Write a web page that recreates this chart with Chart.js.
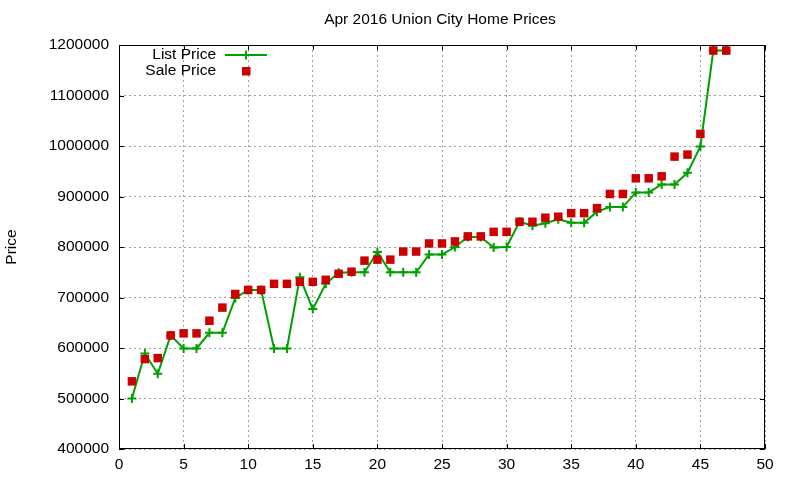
<!DOCTYPE html>
<html>
<head>
<meta charset="utf-8">
<script src="https://cdn.jsdelivr.net/npm/chart.js@4.4.1/dist/chart.umd.min.js"></script>
<style>
html,body{margin:0;padding:0;background:#fff;}
canvas{display:block;}
</style>
</head>
<body>
<canvas id="c" width="800" height="480"></canvas>
<script>
const chartTitle = "Apr 2016 Union City Home Prices";
const yAxisTitle = "Price";
const seriesNames = ["List Price", "Sale Price"];
const homes = [1,2,3,4,5,6,7,8,9,10,11,12,13,14,15,16,17,18,19,20,21,22,23,24,25,26,27,28,29,30,31,32,33,34,35,36,37,38,39,40,41,42,43,44,45,46,47];
const listPrice = [500000,589000,549000,625000,599000,599000,630000,630000,699000,715000,715000,599000,599000,740000,677000,727000,749000,750000,750000,790000,750000,750000,750000,785000,785000,800000,820000,820000,799000,800000,850000,842000,847000,855000,848000,848000,870000,879000,879000,908000,908000,924000,924000,947000,999000,1189000,1189000];
const salePrice = [534000,578000,580000,625000,629000,629000,654000,680000,707000,715000,715000,727000,727000,731000,731000,735000,747000,751000,773000,775000,775000,791000,791000,807000,807000,811000,821000,821000,830000,830000,850000,850000,858000,860000,867000,867000,877000,905000,905000,936000,936000,940000,979000,983000,1024000,1189000,1189000];
const xTicks = [0,5,10,15,20,25,30,35,40,45,50];
const yTicks = [400000,500000,600000,700000,800000,900000,1000000,1100000,1200000];

const FONT = "Liberation Sans, Arial, sans-serif";
const FSIZE = 15.5;
const GREEN = "#00a000";
const RED = "#cc0000";

const decor = {
  id: "decor",
  afterDraw(chart) {
    const ctx = chart.ctx;
    const a = chart.chartArea;
    const xs = chart.scales.x, ys = chart.scales.y;
    ctx.save();
    ctx.strokeStyle = "#000";
    ctx.lineWidth = 1;
    ctx.setLineDash([]);
    ctx.strokeRect(Math.round(a.left) + 0.5, Math.round(a.top) + 0.5, Math.round(a.right - a.left) - 1, Math.round(a.bottom - a.top) - 1);
    const tl = 5;
    ctx.beginPath();
    xTicks.forEach(v => {
      const px = Math.round(xs.getPixelForValue(v)) + 0.5;
      ctx.moveTo(px, a.bottom); ctx.lineTo(px, a.bottom - tl);
      ctx.moveTo(px, a.top); ctx.lineTo(px, a.top + tl);
    });
    yTicks.forEach(v => {
      const py = Math.round(ys.getPixelForValue(v)) + 0.5;
      ctx.moveTo(a.left, py); ctx.lineTo(a.left + tl, py);
      ctx.moveTo(a.right, py); ctx.lineTo(a.right - tl, py);
    });
    ctx.stroke();
    ctx.fillStyle = "#000";
    ctx.font = FSIZE + "px " + FONT;
    ctx.textAlign = "center";
    ctx.textBaseline = "middle";
    ctx.fillText(chartTitle, (a.left + a.right) / 2 - 2, 20);
    ctx.save();
    ctx.translate(12, (a.top + a.bottom) / 2);
    ctx.rotate(-Math.PI / 2);
    ctx.fillText(yAxisTitle, 0, 0);
    ctx.restore();
    ctx.textAlign = "right";
    ctx.fillText(seriesNames[0], 216, 55);
    ctx.fillText(seriesNames[1], 216, 71);
    ctx.strokeStyle = GREEN;
    ctx.lineWidth = 2;
    ctx.beginPath();
    ctx.moveTo(225, 55); ctx.lineTo(267, 55);
    ctx.moveTo(246, 50.5); ctx.lineTo(246, 59.5);
    ctx.stroke();
    ctx.fillStyle = RED;
    ctx.fillRect(242, 67, 8.5, 8.5);
    ctx.restore();
  }
};

new Chart(document.getElementById("c"), {
  type: "scatter",
  plugins: [decor],
  data: {
    datasets: [
      {
        label: seriesNames[0],
        data: homes.map((h, i) => ({ x: h, y: listPrice[i] })),
        showLine: true,
        borderColor: GREEN,
        backgroundColor: GREEN,
        borderWidth: 2,
        pointStyle: "cross",
        pointRadius: 4.5,
        pointBorderWidth: 2,
        pointBorderColor: GREEN,
        order: 2
      },
      {
        label: seriesNames[1],
        data: homes.map((h, i) => ({ x: h, y: salePrice[i] })),
        showLine: false,
        backgroundColor: RED,
        borderColor: RED,
        pointStyle: "rect",
        pointRadius: 6,
        pointBorderWidth: 0,
        order: 1
      }
    ]
  },
  options: {
    responsive: false,
    animation: false,
    devicePixelRatio: 1,
    layout: { padding: { left: 0, top: 45, right: 35, bottom: 0 } },
    plugins: {
      legend: { display: false },
      title: { display: false },
      tooltip: { enabled: false }
    },
    scales: {
      x: {
        type: "linear",
        min: 0, max: 50,
        afterBuildTicks(s) { s.ticks = xTicks.map(v => ({ value: v })); },
        afterFit(s) { s.height = 31; },
        border: { display: false, dash: [2, 3] },
        grid: { color: "#a0a0a0", lineWidth: 1, drawTicks: false },
        ticks: { color: "#000", padding: 6, font: { family: FONT, size: FSIZE }, maxRotation: 0 }
      },
      y: {
        type: "linear",
        min: 400000, max: 1200000,
        afterBuildTicks(s) { s.ticks = yTicks.map(v => ({ value: v })); },
        afterFit(s) { s.width = 119; },
        border: { display: false, dash: [2, 3] },
        grid: { color: "#a0a0a0", lineWidth: 1, drawTicks: false },
        ticks: { color: "#000", padding: 10, font: { family: FONT, size: FSIZE }, callback: v => String(v) }
      }
    }
  }
});
</script>
</body>
</html>
